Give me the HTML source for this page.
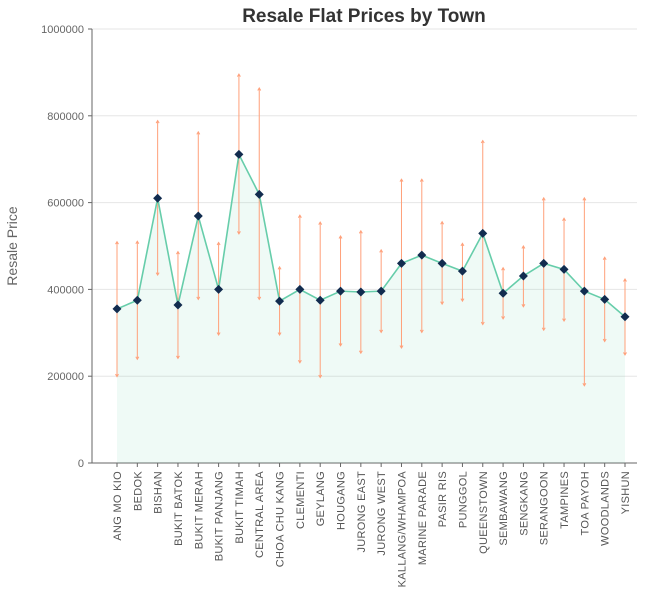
<!DOCTYPE html>
<html><head><meta charset="utf-8"><style>
body{margin:0;background:#fff;font-family:"Liberation Sans",sans-serif}
svg text{font-family:"Liberation Sans",sans-serif}
</style></head><body>
<svg id="chart" width="660" height="605" xmlns="http://www.w3.org/2000/svg">
<text x="364" y="22" text-anchor="middle" font-size="19" font-weight="bold" fill="#333">Resale Flat Prices by Town</text>
<text transform="translate(17,246) rotate(-90)" text-anchor="middle" font-size="14" fill="#666">Resale Price</text>
<g id="grid"></g>
<g id="yaxis"></g>
<g id="xaxis"></g>
<g id="marks"></g>
</svg>
<script>
const towns=["ANG MO KIO","BEDOK","BISHAN","BUKIT BATOK","BUKIT MERAH","BUKIT PANJANG","BUKIT TIMAH","CENTRAL AREA","CHOA CHU KANG","CLEMENTI","GEYLANG","HOUGANG","JURONG EAST","JURONG WEST","KALLANG/WHAMPOA","MARINE PARADE","PASIR RIS","PUNGGOL","QUEENSTOWN","SEMBAWANG","SENGKANG","SERANGOON","TAMPINES","TOA PAYOH","WOODLANDS","YISHUN"];
const means=[355000,375000,610000,364000,569000,400000,711000,619000,373000,400000,375000,396000,394000,396000,460000,479000,460000,442000,529000,391000,431000,460000,446000,396000,377000,337000];
const highs=[510000,511000,789000,487000,763000,508000,896000,864000,452000,571000,555000,523000,535000,491000,654000,654000,556000,506000,743000,450000,500000,611000,564000,611000,474000,424000];
const lows=[199000,239000,433000,241000,377000,295000,528000,377000,295000,231000,197000,270000,253000,301000,265000,301000,366000,373000,319000,332000,360000,306000,327000,178000,280000,249000];
const yTicks=[0,200000,400000,600000,800000,1000000];
const NS="http://www.w3.org/2000/svg";
const X0=117,DX=(625-117)/25,Y0=463,Y1=29;
const x=i=>X0+i*DX;
const y=v=>Y0-(v/1e6)*(Y0-Y1);
function mk(tag,attrs,parent){const e=document.createElementNS(NS,tag);for(const k in attrs)e.setAttribute(k,attrs[k]);parent.appendChild(e);return e;}
const grid=document.getElementById('grid'),ya=document.getElementById('yaxis'),xa=document.getElementById('xaxis'),m=document.getElementById('marks');
yTicks.forEach(t=>{
  if(t>0){const g=mk('line',{x1:92,x2:637,y1:y(t),y2:y(t),stroke:'#e6e6e6','stroke-width':1},grid);
  
  }
  const tk=mk('line',{x1:88,x2:92,y1:y(t),y2:y(t),stroke:'#666'},ya);
  
  
  const tl=mk('text',{x:84,y:y(t)+4,'text-anchor':'end','font-size':11,fill:'#666'},ya);tl.textContent=t;
  
  
});
const yl=mk('line',{x1:92,x2:92,y1:Y1,y2:Y0,stroke:'#666'},ya);


const xl=mk('line',{x1:92,x2:637,y1:Y0,y2:Y0,stroke:'#666'},xa);


towns.forEach((t,i)=>{
  const tk=mk('line',{x1:x(i),x2:x(i),y1:Y0,y2:Y0+4,stroke:'#666'},xa);
  
  
  const tl=mk('text',{transform:`translate(${x(i)+4},${Y0+8}) rotate(-90)`,'text-anchor':'end','font-size':11,fill:'#555','letter-spacing':'0.3'},xa);tl.textContent=t;
  
  
});
let pts=means.map((v,i)=>x(i)+','+y(v)).join(' ');
const area=mk('polygon',{points:`${x(0)},${Y0} ${pts} ${x(means.length-1)},${Y0}`,fill:'#66cdaa','fill-opacity':0.1},m);


towns.forEach((t,i)=>{
  const g=mk('g',{},m);
  
  
  mk('line',{x1:x(i),x2:x(i),y1:y(highs[i]),y2:y(lows[i]),stroke:'#ffa07a','stroke-width':1},g);
  mk('path',{d:`M${x(i)-1.5},${y(highs[i])+2.5} L${x(i)},${y(highs[i])} L${x(i)+1.5},${y(highs[i])+2.5}`,stroke:'#ffa07a',fill:'none'},g);
  mk('path',{d:`M${x(i)-1.5},${y(lows[i])-2.5} L${x(i)},${y(lows[i])} L${x(i)+1.5},${y(lows[i])-2.5}`,stroke:'#ffa07a',fill:'none'},g);
});
const ln=mk('polyline',{points:pts,fill:'none',stroke:'#66cdaa','stroke-width':1.6},m);


means.forEach((v,i)=>{
  const d=mk('path',{d:`M${x(i)},${y(v)-4.5} L${x(i)+4.5},${y(v)} L${x(i)},${y(v)+4.5} L${x(i)-4.5},${y(v)} Z`,fill:'#122c4f'},m);
  
  
});
</script>
</body></html>
